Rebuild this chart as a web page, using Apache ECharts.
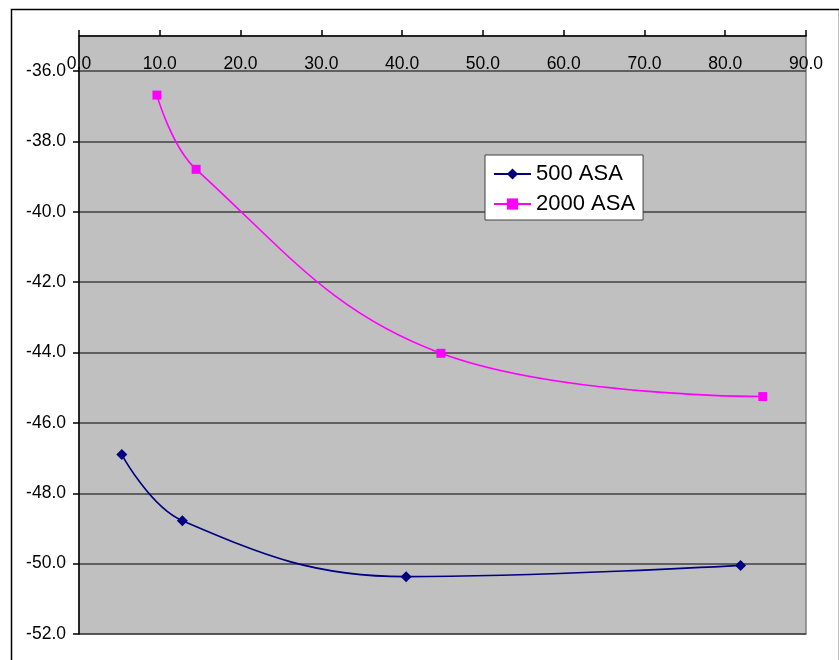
<!DOCTYPE html>
<html>
<head>
<meta charset="utf-8">
<script src="https://cdn.jsdelivr.net/npm/echarts@6/dist/echarts.min.js"></script>
<style>
html,body{margin:0;padding:0;background:#fff;}
#c{width:839px;height:660px;}
</style>
</head>
<body>
<div id="c"></div>
<script>
const seriesNames = ['500 ASA', '2000 ASA'];
const asa500 = [[5.3, -46.9], [12.8, -48.78], [40.5, -50.37], [81.9, -50.05]];
const asa2000 = [[9.65, -36.68], [14.5, -38.79], [44.8, -44.02], [84.65, -45.25]];
const yTicks = [-52, -50, -48, -46, -44, -42, -40, -38, -36];

const chart = echarts.init(document.getElementById('c'), null, {renderer: 'canvas'});
const font = 'Liberation Sans, Arial, sans-serif';
chart.setOption({
  animation: false,
  backgroundColor: '#fff',
  graphic: [{
    type: 'rect', left: 9, top: 7, z: -10,
    shape: {x: 0, y: 0, width: 828, height: 700},
    style: {fill: 'none', stroke: '#000', lineWidth: 1.5}
  }],
  grid: {
    left: 79, top: 36, right: 33, bottom: 26,
    show: true, backgroundColor: '#C0C0C0', borderColor: '#808080', borderWidth: 1.5
  },
  legend: {
    left: 485, top: 155, orient: 'vertical',
    backgroundColor: '#fff', borderColor: '#404040', borderWidth: 1,
    padding: [8, 8, 5, 8], itemGap: 8, itemWidth: 37, itemHeight: 14,
    textStyle: {fontFamily: font, fontSize: 22, color: '#000'},
    data: seriesNames
  },
  xAxis: {
    type: 'value', position: 'top', min: 0, max: 90, interval: 10,
    axisLine: {show: true, lineStyle: {color: '#000', width: 1.5}},
    axisTick: {show: true, inside: false, length: 6, lineStyle: {color: '#000', width: 1.5}},
    axisLabel: {inside: true, margin: 19, fontFamily: font, fontSize: 17.5, color: '#000',
      formatter: v => v.toFixed(1)},
    splitLine: {show: false}
  },
  yAxis: {
    type: 'value', min: -52, max: -35, interval: 2,
    axisLine: {show: true, lineStyle: {color: '#000', width: 1.5}},
    axisTick: {show: true, length: 6, customValues: yTicks, lineStyle: {color: '#000', width: 1.5}},
    axisLabel: {margin: 13, fontFamily: font, fontSize: 17.5, color: '#000',
      customValues: yTicks, formatter: v => v.toFixed(1)},
    splitLine: {show: true, lineStyle: {color: '#404040', width: 1.5}}
  },
  series: [{
    name: seriesNames[0], type: 'line', data: asa500, smooth: 0.4,
    symbol: 'diamond', symbolSize: 11,
    lineStyle: {color: '#000080', width: 1.6},
    itemStyle: {color: '#000080'}
  }, {
    name: seriesNames[1], type: 'line', data: asa2000, smooth: 0.4,
    symbol: 'rect', symbolSize: 9,
    lineStyle: {color: '#FF00FF', width: 1.6},
    itemStyle: {color: '#FF00FF'}
  }]
});
</script>
</body>
</html>
